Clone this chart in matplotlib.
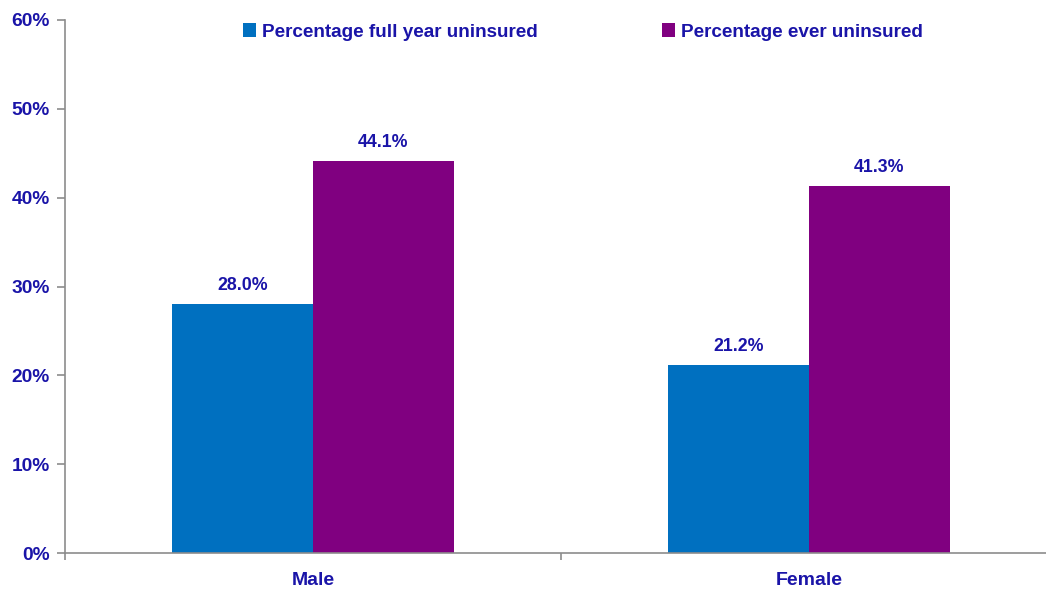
import numpy as np
import matplotlib.pyplot as plt
from matplotlib.patches import Patch

# data
categories = ['Male', 'Female']
full_year = [28.0, 21.2]
ever = [44.1, 41.3]
series_names = ['Percentage full year uninsured', 'Percentage ever uninsured']
yticks = [0, 10, 20, 30, 40, 50, 60]

blue = '#0070c0'
purple = '#800080'
txt = '#1a14a8'

plt.rcParams['font.family'] = ['Liberation Sans', 'DejaVu Sans']
plt.rcParams['font.weight'] = 'bold'

fig = plt.figure(figsize=(10.46, 5.89), dpi=100)
# axes runs a bit past the right edge of the figure, like the reference
ax = fig.add_axes([65 / 1046, 36 / 589, 992 / 1046, 533 / 589])

x = np.arange(len(categories))
w = 0.284
b1 = ax.bar(x - w / 2, full_year, w, color=blue, label=series_names[0])
b2 = ax.bar(x + w / 2, ever, w, color=purple, label=series_names[1])

for bars, vals in [(b1, full_year), (b2, ever)]:
    for rect, v in zip(bars, vals):
        ax.text(rect.get_x() + rect.get_width() / 2, v + 1.1, f'{v:.1f}%',
                ha='center', va='bottom', color=txt, fontsize=12.8, fontweight='bold')

ax.set_ylim(0, 60)
ax.set_xlim(-0.5, 1.5)
ax.set_yticks(yticks)
ax.set_yticklabels([f'{t}%' for t in yticks])
ax.set_xticks(x)
ax.set_xticklabels(categories)
ax.set_xticks([-0.5, 0.5], minor=True)

for s in ['top', 'right']:
    ax.spines[s].set_visible(False)
for s in ['left', 'bottom']:
    ax.spines[s].set_color('#8c8c8c')
    ax.spines[s].set_linewidth(1.2)

ax.tick_params(axis='y', length=6, width=1.2, color='#8c8c8c', labelcolor=txt,
               labelsize=13.8, pad=5)
ax.tick_params(axis='x', which='major', length=0, labelcolor=txt, labelsize=14, pad=14)
ax.tick_params(axis='x', which='minor', length=5, width=1.2, color='#8c8c8c')
for lab in ax.get_xticklabels() + ax.get_yticklabels():
    lab.set_fontweight('bold')

handles = [Patch(facecolor=blue), Patch(facecolor=purple)]
leg = fig.legend(handles, series_names, loc='center', bbox_to_anchor=(583 / 1046, 1 - 32 / 589),
                 ncol=2, frameon=False, fontsize=13.6, handlelength=0.7, handleheight=0.7,
                 handletextpad=0.3, columnspacing=6.6)
for t in leg.get_texts():
    t.set_color(txt)
    t.set_fontweight('bold')

fig.savefig('out.png', dpi=100)
